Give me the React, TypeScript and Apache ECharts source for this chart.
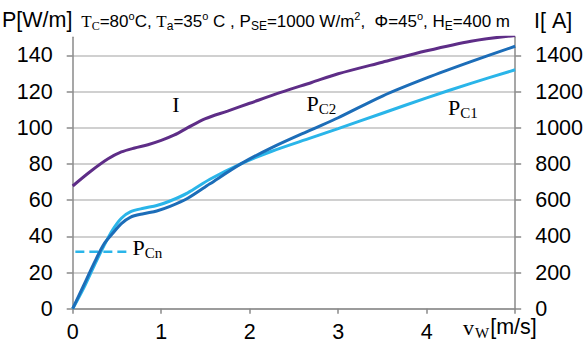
import React, { useEffect, useRef } from 'react';
import * as echarts from 'echarts';

// wind speed samples for the power curves [m/s]
const vP = [0, 0.12, 0.25, 0.35, 0.45, 0.55, 0.65, 0.8, 0.95, 1.1, 1.3, 1.55, 1.9, 2.25, 2.7, 3.0, 3.5, 4.0, 4.5, 5.0];
// P_C1 [W/m]
const pc1 = [0, 11, 24.5, 34.5, 43.5, 50, 53.5, 55.5, 57, 59.5, 64, 71.5, 80, 87, 94.5, 99.5, 108, 116.5, 124.5, 132];
// P_C2 [W/m]
const pc2 = [0, 12.5, 26, 35.5, 41.5, 47, 50.5, 52.5, 54, 56.5, 61, 69, 80, 89, 99, 105.5, 117.5, 127.5, 136.5, 145];
// wind speed samples for the current curve [m/s]
const vI = [0, 0.2, 0.4, 0.55, 0.7, 0.85, 1.0, 1.15, 1.3, 1.5, 1.75, 2.0, 2.35, 2.7, 3.0, 3.5, 4.0, 4.5, 5.0];
// I [A]
const current = [678, 758, 828, 866, 888, 906, 930, 960, 1000, 1050, 1092, 1135, 1195, 1250, 1298, 1362, 1425, 1478, 1510];
// nominal P_Cn marker (dashed)
const pcnV = [0.03, 0.65];
const pcnP = [31.5, 31.5];
// tick values
const pTicks = [0, 20, 40, 60, 80, 100, 120, 140];
const iTicks = [0, 200, 400, 600, 800, 1000, 1200, 1400];
const xTicks = [0, 1, 2, 3, 4, 5];

const SANS = 'Liberation Sans, Arial, sans-serif';
const SERIF = 'Liberation Serif, Times New Roman, serif';
const NB = '\u00a0';

export default function App() {
  const ref = useRef<HTMLDivElement>(null);
  useEffect(() => {
    const chart = echarts.init(ref.current!, null, { renderer: 'svg' });
    const axisGrey = '#8a8a8a';
    const gridGrey = '#c0c0c0';
    const splitColors = pTicks.map(() => gridGrey).concat(['rgba(0,0,0,0)']);
    const option: any = {
      animation: false,
      backgroundColor: '#ffffff',
      grid: { left: 72.7, right: 69.7, top: 37.2, bottom: 41.3, containLabel: false },
      xAxis: {
        type: 'value', min: 0, max: 5, interval: 1,
        axisLine: { show: true, lineStyle: { color: axisGrey, width: 1.5 } },
        axisTick: { show: true, length: 5, customValues: xTicks, lineStyle: { color: axisGrey, width: 1.5 } },
        axisLabel: {
          color: '#000', fontSize: 21.5, fontFamily: SANS, margin: 12,
          customValues: xTicks.slice(0, 5),
          formatter: (v: number) => (v < 5 ? String(v) : ''),
        },
        splitLine: { show: false },
      },
      yAxis: [
        {
          type: 'value', min: 0, max: 150, interval: 20, position: 'left',
          axisLine: { show: true, lineStyle: { color: axisGrey, width: 1.5 } },
          axisTick: { show: true, length: 6, customValues: pTicks, lineStyle: { color: axisGrey, width: 1.5 } },
          axisLabel: {
            color: '#000', fontSize: 21.5, fontFamily: SANS, margin: 20,
            customValues: pTicks,
            formatter: (v: number) => (v % 20 === 0 && v <= 140 ? String(v) : ''),
          },
          splitLine: { show: true, lineStyle: { color: splitColors, width: 1.5 } },
        },
        {
          type: 'value', min: 0, max: 1500, interval: 200, position: 'right',
          axisLine: { show: true, lineStyle: { color: axisGrey, width: 1.5 } },
          axisTick: { show: true, length: 6, customValues: iTicks, lineStyle: { color: axisGrey, width: 1.5 } },
          axisLabel: {
            color: '#000', fontSize: 21.5, fontFamily: SANS, margin: 20,
            customValues: iTicks,
            formatter: (v: number) => (v % 200 === 0 && v <= 1400 ? String(v) : ''),
          },
          splitLine: { show: false },
        },
      ],
      series: [
        {
          name: 'PCn', type: 'line', yAxisIndex: 0, showSymbol: false, symbol: 'none',
          data: pcnV.map((v, i) => [v, pcnP[i]]),
          lineStyle: { color: '#2AB5E9', width: 2.5, type: [9, 5] },
          z: 2,
        },
        {
          name: 'PC1', type: 'line', yAxisIndex: 0, showSymbol: false, symbol: 'none', smooth: 0.3,
          data: vP.map((v, i) => [v, pc1[i]]),
          lineStyle: { color: '#2AB5E9', width: 3 },
          z: 3,
        },
        {
          name: 'PC2', type: 'line', yAxisIndex: 0, showSymbol: false, symbol: 'none', smooth: 0.3,
          data: vP.map((v, i) => [v, pc2[i]]),
          lineStyle: { color: '#1C6DB8', width: 3 },
          z: 4,
        },
        {
          name: 'I', type: 'line', yAxisIndex: 1, showSymbol: false, symbol: 'none', smooth: 0.3,
          data: vI.map((v, i) => [v, current[i]]),
          lineStyle: { color: '#5E2D87', width: 3 },
          z: 5,
        },
      ],
      graphic: [
        {
          type: 'text', x: 2, y: 20.3, silent: true,
          style: { text: 'P[W/m]', fontSize: 21.5, fontFamily: SANS, fill: '#000', align: 'left', verticalAlign: 'middle' },
        },
        {
          type: 'text', x: 534, y: 20.5, silent: true,
          style: { text: 'I[' + NB + 'A]', fontSize: 21.5, fontFamily: SANS, fill: '#000', align: 'left', verticalAlign: 'middle' },
        },
        {
          type: 'text', x: 510, y: 21, silent: true,
          style: {
            text:
              '{tt|T}{st|C}{n|=80}{sp|o}{n|C,' + NB + '}{tt|T}{sa|a}{n|=35}{sp|o}{n|' + NB + 'C' + NB + ',' + NB + 'P}{sa|SE}{n|=1000' + NB + 'W/m}{sp|2}{n|,' + NB + NB + 'Φ=45}{sp|o}{n|,' + NB + 'H}{sa|E}{n|=400' + NB + 'm}',
            align: 'right', verticalAlign: 'middle', fill: '#000',
            rich: {
              n: { fontSize: 17, fontFamily: SANS, lineHeight: 22, verticalAlign: 'middle', fill: '#000' },
              tt: { fontSize: 17, fontFamily: SERIF, lineHeight: 22, verticalAlign: 'middle', fill: '#000' },
              st: { fontSize: 12, fontFamily: SERIF, lineHeight: 14, verticalAlign: 'bottom', fill: '#000' },
              sa: { fontSize: 12, fontFamily: SANS, lineHeight: 14, verticalAlign: 'bottom', fill: '#000' },
              sp: { fontSize: 11, fontFamily: SANS, lineHeight: 12, verticalAlign: 'top', fill: '#000' },
            },
          },
        },
        {
          type: 'text', x: 176, y: 104.2, silent: true,
          style: { text: 'I', fontSize: 22, fontFamily: SERIF, fill: '#000', align: 'center', verticalAlign: 'middle' },
        },
        {
          type: 'text', x: 306.5, y: 103, silent: true,
          style: {
            text: '{m|P}{s|C2}', align: 'left', verticalAlign: 'middle',
            rich: {
              m: { fontSize: 22, fontFamily: SERIF, lineHeight: 26, verticalAlign: 'middle', fill: '#000' },
              s: { fontSize: 15, fontFamily: SERIF, lineHeight: 13, verticalAlign: 'bottom', fill: '#000' },
            },
          },
        },
        {
          type: 'text', x: 448, y: 107.5, silent: true,
          style: {
            text: '{m|P}{s|C1}', align: 'left', verticalAlign: 'middle',
            rich: {
              m: { fontSize: 22, fontFamily: SERIF, lineHeight: 26, verticalAlign: 'middle', fill: '#000' },
              s: { fontSize: 15, fontFamily: SERIF, lineHeight: 13, verticalAlign: 'bottom', fill: '#000' },
            },
          },
        },
        {
          type: 'text', x: 132.5, y: 247.5, silent: true,
          style: {
            text: '{m|P}{s|Cn}', align: 'left', verticalAlign: 'middle',
            rich: {
              m: { fontSize: 22, fontFamily: SERIF, lineHeight: 26, verticalAlign: 'middle', fill: '#000' },
              s: { fontSize: 15, fontFamily: SERIF, lineHeight: 13, verticalAlign: 'bottom', fill: '#000' },
            },
          },
        },
        {
          type: 'text', x: 463, y: 327, silent: true,
          style: {
            text: '{m|v}{s|W}{a|[m/s]}', align: 'left', verticalAlign: 'middle',
            rich: {
              m: { fontSize: 22, fontFamily: SERIF, lineHeight: 26, verticalAlign: 'middle', fill: '#000' },
              s: { fontSize: 15, fontFamily: SERIF, lineHeight: 6, verticalAlign: 'bottom', fill: '#000', padding: [0, 1, 0, 1] },
              a: { fontSize: 21.5, fontFamily: SANS, lineHeight: 26, verticalAlign: 'middle', fill: '#000' },
            },
          },
        },
      ],
    };
    chart.setOption(option);
    return () => chart.dispose();
  }, []);
  return (
    <div
      ref={ref}
      style={{ position: 'absolute', left: 0, top: 0, width: 586, height: 350, background: '#fff' }}
    />
  );
}
